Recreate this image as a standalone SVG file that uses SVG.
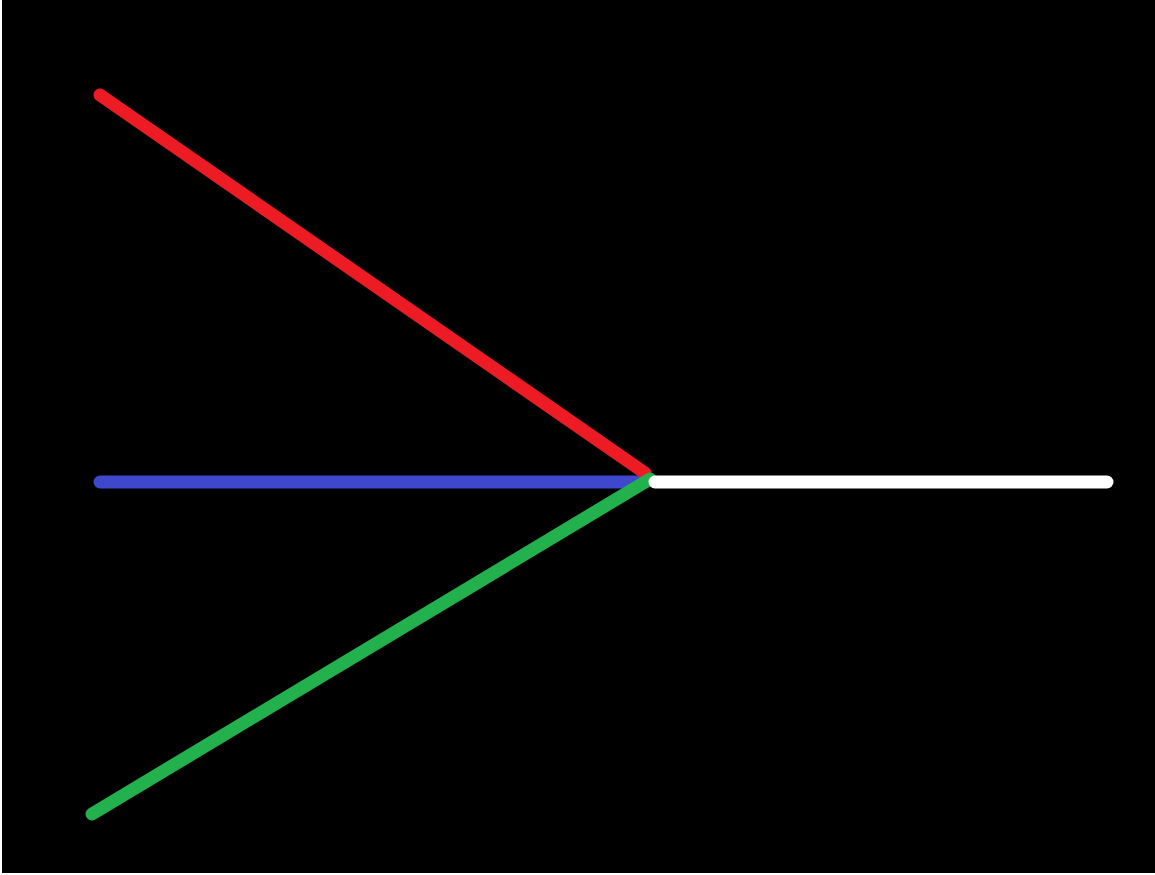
<svg xmlns="http://www.w3.org/2000/svg" width="1155" height="875" viewBox="0 0 1155 875">
<style>
.l{stroke-width:13;stroke-linecap:round;fill:none}
</style>
<rect x="0" y="0" width="1155" height="875" fill="#ffffff"/>
<rect x="2" y="0" width="1153" height="873" fill="#000000"/>
<g id="connectors">
<line class="l" x1="100" y1="482" x2="645" y2="482" stroke="#3F48CC"/>
<line class="l" x1="100" y1="95" x2="645" y2="473" stroke="#ED1C24"/>
<line class="l" x1="92" y1="814" x2="650" y2="479" stroke="#22B14C"/>
<line class="l" x1="655" y1="482" x2="1107" y2="482" stroke="#FFFFFF"/>
</g>
</svg>
